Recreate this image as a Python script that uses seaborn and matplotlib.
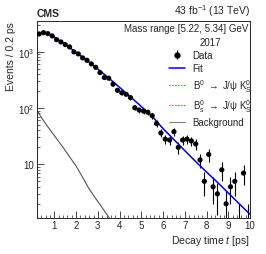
import numpy as np
import pandas as pd
import seaborn as sns
import matplotlib.pyplot as plt
from matplotlib.lines import Line2D
from matplotlib.ticker import FixedLocator, MultipleLocator, FuncFormatter, NullFormatter

# data, bins of 0.2 ps
t_data = [0.3, 0.5, 0.7, 0.9, 1.1, 1.3, 1.5, 1.7, 1.9, 2.1,
          2.3, 2.5, 2.7, 2.9, 3.1, 3.3, 3.5, 3.7, 3.9, 4.1,
          4.3, 4.5, 4.7, 4.9, 5.1, 5.3, 5.5, 5.7, 5.9, 6.1,
          6.3, 6.5, 6.7, 6.9, 7.1, 7.3, 7.5, 7.7, 7.9, 8.1,
          8.3, 8.5, 8.7, 8.9, 9.1, 9.3, 9.5, 9.7, 9.9]
n_data = [2056, 2170, 2083, 1897, 1631, 1485, 1331, 1211, 988, 910,
          773, 701, 605, 527, 425, 347, 338, 264, 206, 186,
          175, 153, 101, 92, 88, 84, 73, 53, 36, 28,
          27, 38, 20, 27, 28, 26, 23, 12, 5, 15,
          4, 3, 8, 2, 4, 5, 1, 7, 1]

t_fit = [0.2, 0.3, 0.4, 0.5, 0.6, 0.7, 0.8, 0.9, 1.0, 1.25, 1.5, 1.75,
         2.0, 2.5, 3.0, 3.5, 4.0, 4.5, 5.0, 5.5, 6.0, 6.5, 7.0, 7.5,
         8.0, 8.5, 9.0, 9.5, 10.0]
n_fit = [1980, 2100, 2160, 2170, 2150, 2090, 2010, 1910, 1800, 1560, 1340, 1140,
         965, 700, 490, 340, 232, 158, 106, 71, 43, 27.5, 17.5, 11.2,
         7.3, 4.8, 3.1, 2.0, 1.3]

t_bkg = [0.2, 0.4, 0.6, 0.8, 1.0, 1.2, 1.4, 1.6, 1.8, 2.0,
         2.2, 2.4, 2.6, 2.8, 3.0, 3.2, 3.4, 3.6]
n_bkg = [92, 68, 52.5, 41, 32.4, 25.4, 20, 15.5, 12.0, 9.3,
         6.9, 5.0, 3.67, 2.82, 2.19, 1.70, 1.32, 1.02]

sns.set_style("ticks")
plt.rcParams["font.family"] = ["Liberation Sans", "DejaVu Sans"]
plt.rcParams["mathtext.fontset"] = "custom"
plt.rcParams["mathtext.rm"] = "Liberation Sans"
plt.rcParams["mathtext.it"] = "Liberation Sans:italic"
plt.rcParams["mathtext.bf"] = "Liberation Sans:bold"

fig = plt.figure(figsize=(2.66, 2.55), dpi=100)
ax = fig.add_axes([0.139, 0.143, 0.801, 0.771])

df = pd.DataFrame({"t": t_data, "n": n_data})
err = np.sqrt(df["n"])
lo = np.minimum(err, df["n"] * 0.999)
ax.errorbar(df["t"], df["n"], yerr=[lo, err], fmt="none", ecolor="black",
            elinewidth=0.8, capsize=0, zorder=3)

sns.lineplot(x=t_bkg, y=n_bkg, color="#555555", lw=0.8, ax=ax, zorder=2)
sns.lineplot(x=t_fit, y=n_fit, color="#0000ee", lw=1.1, ax=ax, zorder=4)
sns.scatterplot(data=df, x="t", y="n", color="black", s=14, edgecolor="none",
                ax=ax, zorder=5)

ax.set_yscale("log")
ax.set_xlim(0.2, 10)
ax.set_ylim(1.14, 3500)

ax.xaxis.set_major_locator(FixedLocator(range(1, 11)))
ax.xaxis.set_minor_locator(MultipleLocator(0.2))
ax.yaxis.set_major_locator(FixedLocator([10, 100, 1000]))
ax.yaxis.set_major_formatter(FuncFormatter(
    lambda v, p: "10" if v == 10 else r"$10^{%d}$" % round(np.log10(v))))
ax.yaxis.set_minor_formatter(NullFormatter())
ax.tick_params(which="both", direction="in", labelsize=7, pad=2)
ax.tick_params(which="major", length=5, width=0.6)
ax.tick_params(which="minor", length=2.5, width=0.5)
for s in ax.spines.values():
    s.set_linewidth(0.7)

ax.set_xlabel(r"Decay time $t$ [ps]", fontsize=7.5, loc="right", labelpad=2)
ax.set_ylabel("Events / 0.2 ps", fontsize=7.5, loc="top", labelpad=1)

fig.text(0.139, 0.925, "CMS", fontsize=7.5, fontweight="bold", va="bottom", ha="left")
fig.text(0.94, 0.925, r"43 fb$^{-1}$ (13 TeV)", fontsize=7.5, va="bottom", ha="right")
ax.text(0.99, 0.99, "Mass range [5.22, 5.34] GeV", fontsize=7, transform=ax.transAxes,
        ha="right", va="top")

data_handle = ax.errorbar([np.nan], [np.nan], yerr=[[np.nan], [np.nan]], fmt="o",
                          color="black", markersize=3.5, elinewidth=0.8, capsize=0)
handles = [
    data_handle,
    Line2D([], [], color="#0000ee", lw=1.1),
    Line2D([], [], color="green", lw=0.8, ls=":"),
    Line2D([], [], color="red", lw=0.8, ls=":"),
    Line2D([], [], color="gray", lw=0.8),
]
labels = [
    "Data", "Fit",
    r"B$^{0}$ $\rightarrow$ J/ψ K$^{0}_{\mathrm{S}}$",
    r"B$^{0}_{\mathrm{s}}$ $\rightarrow$ J/ψ K$^{0}_{\mathrm{S}}$",
    "Background",
]
leg = ax.legend(handles, labels, title="2017", loc="upper right",
                bbox_to_anchor=(1.04, 0.955), frameon=False, fontsize=7,
                title_fontsize=7, handlelength=1.6, handletextpad=0.8,
                labelspacing=0.35, borderpad=0.2)

fig.savefig("out.png", dpi=100)
